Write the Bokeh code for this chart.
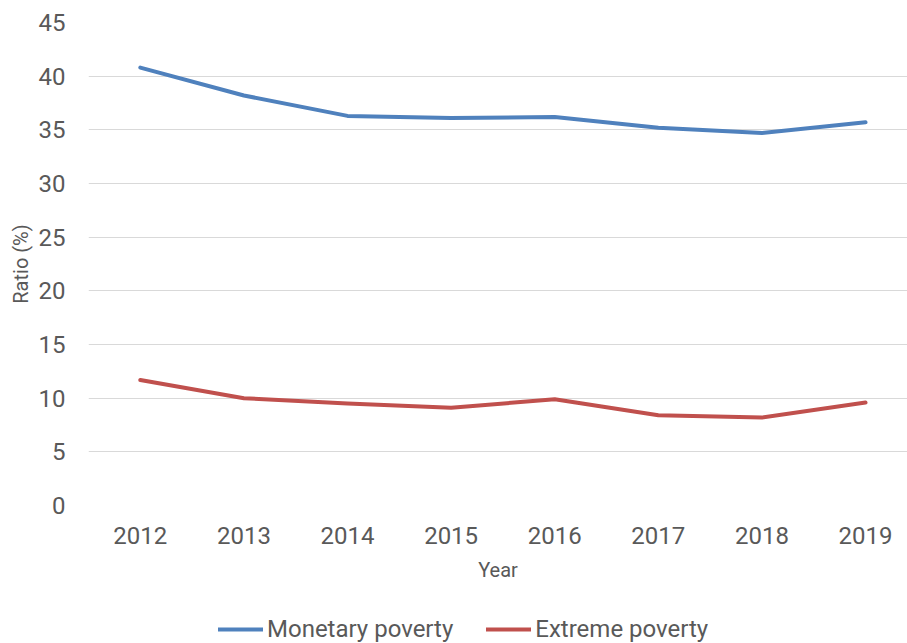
from bokeh.plotting import figure
from bokeh.models import Legend, LegendItem, FixedTicker, Range1d
from bokeh.layouts import column
from bokeh.embed import file_html
from bokeh.resources import INLINE

years = [2012, 2013, 2014, 2015, 2016, 2017, 2018, 2019]
monetary = [40.8, 38.2, 36.3, 36.1, 36.2, 35.2, 34.7, 35.7]
extreme = [11.7, 10.0, 9.5, 9.1, 9.9, 8.4, 8.2, 9.6]
y_ticks = [0, 5, 10, 15, 20, 25, 30, 35, 40, 45]
series_names = ["Monetary poverty", "Extreme poverty"]
series_colors = ["#4F81BD", "#C0504D"]

FONT = "Roboto"
TXT = "#595959"

p = figure(frame_width=819, frame_height=483, output_backend="svg",
           toolbar_location=None, x_range=Range1d(2011.5, 2019.405),
           y_range=Range1d(0, 45), min_border_left=88, min_border_top=22,
           min_border_right=0, min_border_bottom=100)
p.outline_line_color = None
p.background_fill_color = "white"
p.border_fill_color = "white"

p.line(years, monetary, line_color=series_colors[0], line_width=4, line_join="round", line_cap="round")
p.line(years, extreme, line_color=series_colors[1], line_width=4, line_join="round", line_cap="round")

p.xgrid.grid_line_color = None
p.ygrid.grid_line_color = "#D9D9D9"
p.ygrid.grid_line_width = 1

p.xaxis.ticker = FixedTicker(ticks=years)
p.yaxis.ticker = FixedTicker(ticks=y_ticks)
for ax in (p.xaxis, p.yaxis):
    ax.axis_line_color = None
    ax.major_tick_line_color = None
    ax.minor_tick_line_color = None
    ax.major_label_text_font = FONT
    ax.major_label_text_font_size = "24px"
    ax.major_label_text_color = TXT
    ax.axis_label_text_font = FONT
    ax.axis_label_text_font_size = "20px"
    ax.axis_label_text_font_style = "normal"
    ax.axis_label_text_color = TXT

p.xaxis.axis_label = "Year"
p.yaxis.axis_label = "Ratio (%)"
p.xaxis.major_label_standoff = 15
p.xaxis.axis_label_standoff = 11
p.yaxis.major_label_standoff = 17
p.yaxis.axis_label_standoff = 3

# legend strip below the chart (its frame is aligned with the main frame)
p2 = figure(frame_width=819, frame_height=38, output_backend="svg", toolbar_location=None,
            x_range=Range1d(0, 1), y_range=Range1d(0, 1),
            x_axis_type=None, y_axis_type=None,
            min_border_left=88, min_border_right=0, min_border_top=0, min_border_bottom=0)
p2.outline_line_color = None
p2.background_fill_color = "white"
p2.border_fill_color = "white"
items = []
for name, col in zip(series_names, series_colors):
    r = p2.line([-10, -9], [-10, -10], line_color=col, line_width=4, line_cap="round")
    items.append(LegendItem(label=name, renderers=[r]))

legend = Legend(items=items, orientation="horizontal", location=(130, 0),
                label_text_font=FONT, label_text_font_size="24px",
                label_text_color=TXT, glyph_width=45, glyph_height=20,
                label_standoff=4, spacing=33, padding=0, margin=0,
                border_line_color=None, background_fill_alpha=0)
p2.add_layout(legend, "center")

layout = column(p, p2, spacing=0)
open("out.html", "w").write(file_html(layout, INLINE))
